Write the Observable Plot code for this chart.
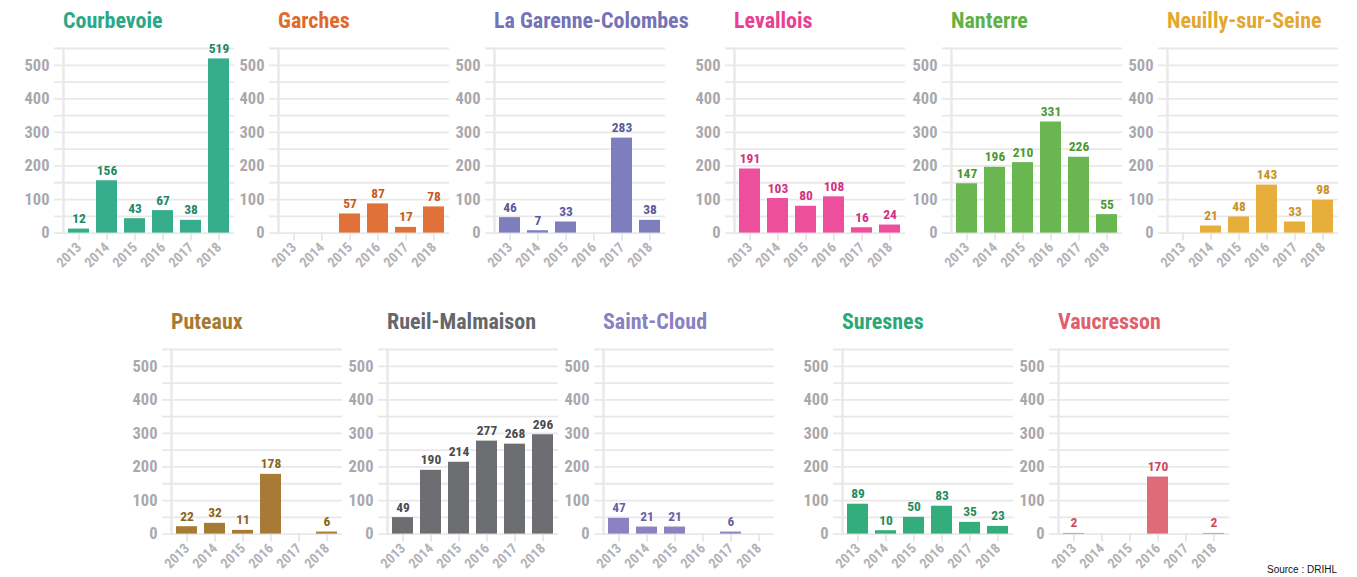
<!DOCTYPE html>
<html>
<head>
<meta charset="utf-8">
<script src="https://cdn.jsdelivr.net/npm/d3@7"></script>
<script src="https://cdn.jsdelivr.net/npm/@observablehq/plot@0.6"></script>
<style>
  body { margin: 0; background: #fff; }
  #root { position: relative; width: 1357px; height: 577px; overflow: hidden; background: #fff; }
  .panel { position: absolute; }
  .title { position: absolute; font-family: "Roboto Condensed", "Liberation Sans Narrow", "DejaVu Sans Condensed", Roboto, sans-serif; font-weight: 700; font-size: 22px; line-height: 22px; white-space: nowrap; }
  .source { position: absolute; left: 1267px; top: 564px; font-family: "Liberation Sans", Arial, sans-serif; font-size: 10px; color: #111; white-space: nowrap; }
</style>
</head>
<body>
<div id="root"></div>
<script>
// ---- data ----
const years = ["2013", "2014", "2015", "2016", "2017", "2018"];
const yTicks = [0, 100, 200, 300, 400, 500];
const gridValues = [0, 50, 100, 150, 200, 250, 300, 350, 400, 450, 500, 550];

const courbevoie   = [12, 156, 43, 67, 38, 519];
const garches      = [null, null, 57, 87, 17, 78];
const garenne      = [46, 7, 33, null, 283, 38];
const levallois    = [191, 103, 80, 108, 16, 24];
const nanterre     = [147, 196, 210, 331, 226, 55];
const neuilly      = [null, 21, 48, 143, 33, 98];
const puteaux      = [22, 32, 11, 178, null, 6];
const rueil        = [49, 190, 214, 277, 268, 296];
const saintCloud   = [47, 21, 21, null, 6, null];
const suresnes     = [89, 10, 50, 83, 35, 23];
const vaucresson   = [2, null, null, 170, null, 2];

const townNames = ["Courbevoie", "Garches", "La Garenne-Colombes", "Levallois", "Nanterre", "Neuilly-sur-Seine",
                   "Puteaux", "Rueil-Malmaison", "Saint-Cloud", "Suresnes", "Vaucresson"];
const townValues = [courbevoie, garches, garenne, levallois, nanterre, neuilly,
                    puteaux, rueil, saintCloud, suresnes, vaucresson];

// ---- styles ----
const barColors   = ["#36ae8e", "#e07239", "#7e7dbd", "#ee4f9c", "#6ab650", "#e7ae3c",
                     "#a77b35", "#6d6e72", "#8b82c1", "#34ad7d", "#e06b78"];
const labelColors = ["#1d876a", "#c65a22", "#5a599c", "#d3307f", "#4b9832", "#c99024",
                     "#8a6320", "#4a4b4f", "#6a61a5", "#1f8d60", "#c84a59"];
const titleColors = ["#2aa888", "#e06a2e", "#7473b8", "#ea3f92", "#62b046", "#e3a830",
                     "#a87a30", "#66676b", "#8a80c2", "#2aa877", "#e0606e"];

const FONT = '"Roboto Condensed", "Liberation Sans Narrow", "DejaVu Sans Condensed", Roboto, sans-serif';
// axis x positions (layout) for each panel, and row offsets
const axisLeft = [63, 278, 494, 734, 951, 1167, 171, 387, 603, 842, 1058];
const rowTop = [0, 0, 0, 0, 0, 0, 301, 301, 301, 301, 301];

const ML = 60, MR = 5, PW = 171, MT = 13, PH = 184.6, MB = 46;
const root = document.getElementById("root");

townNames.forEach((name, i) => {
  const data = years.map((year, k) => ({year, value: townValues[i][k]})).filter(d => d.value != null);
  const chart = Plot.plot({
    width: ML + PW + MR,
    height: MT + PH + MB,
    marginLeft: ML, marginRight: MR, marginTop: MT, marginBottom: MB,
    style: {fontFamily: FONT, background: "transparent", overflow: "visible"},
    x: {type: "band", domain: years, paddingInner: 0.24, paddingOuter: 0.12, label: null},
    y: {domain: [0, 550], label: null},
    marks: [
      Plot.ruleY(gridValues, {stroke: "#e8e8e9", strokeWidth: 1.8, insetLeft: -9}),
      Plot.frame({anchor: "left", stroke: "#e8e8e9", strokeWidth: 2.4}),
      Plot.axisY(yTicks, {tickSize: 0, tickPadding: 14, fill: "#a9a9ad", fontSize: 16.5, fontWeight: 700, label: null}),
      Plot.axisX({tickSize: 8, stroke: "#e4e4e6", strokeWidth: 1.6, tickPadding: 4, tickRotate: -45,
                  fill: "#b3b3b7", fontSize: 14, fontWeight: 700, label: null}),
      Plot.barY(data, {x: "year", y: "value", fill: barColors[i]}),
      Plot.text(data, {x: "year", y: "value", text: d => String(d.value), dy: -6, lineAnchor: "bottom",
                       fill: labelColors[i], fontSize: 13.5, fontWeight: 700})
    ]
  });
  const panel = document.createElement("div");
  panel.className = "panel";
  panel.style.left = (axisLeft[i] - ML) + "px";
  panel.style.top = (rowTop[i] + 35) + "px";
  panel.appendChild(chart);
  root.appendChild(panel);

  const title = document.createElement("div");
  title.className = "title";
  title.textContent = name;
  title.style.color = titleColors[i];
  title.style.left = axisLeft[i] + "px";
  title.style.top = (rowTop[i] + 10) + "px";
  root.appendChild(title);
});

const src = document.createElement("div");
src.className = "source";
src.textContent = "Source : DRIHL";
root.appendChild(src);
</script>
</body>
</html>
